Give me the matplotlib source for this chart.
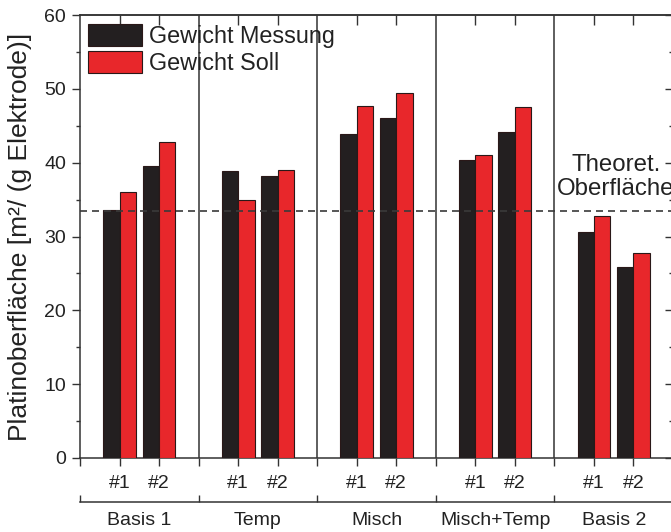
import matplotlib
matplotlib.use("Agg")
import matplotlib.pyplot as plt
import numpy as np

# Data
categories = ["Basis 1", "Temp", "Misch", "Misch+Temp", "Basis 2"]
samples = ["#1", "#2"]
gewicht_messung = [33.6, 39.6, 38.9, 38.2, 43.9, 46.0, 40.3, 44.2, 30.6, 25.9]
gewicht_soll = [36.0, 42.8, 34.9, 39.0, 47.7, 49.4, 41.0, 47.6, 32.8, 27.7]
theoret_oberflaeche = 33.4

plt.rcParams["font.family"] = ["Liberation Sans", "DejaVu Sans"]

W, H = 671, 532
fig = plt.figure(figsize=(W / 100, H / 100), dpi=100)
ax = fig.add_axes([80 / W, (H - 458) / H, 593 / W, 443 / H])

n_groups = len(categories)
positions = []
for g in range(n_groups):
    for s in range(len(samples)):
        positions.append(g + (s + 1) / 3)
positions = np.array(positions)
bw = 0.138

c_black = "#231f20"
c_red = "#e8272b"
edge = "#2a1818"
spine_c = "#333333"
text_c = "#222222"

ax.bar(positions - bw / 2, gewicht_messung, width=bw, color=c_black,
       edgecolor=edge, linewidth=0.8, label="Gewicht Messung", zorder=3)
ax.bar(positions + bw / 2, gewicht_soll, width=bw, color=c_red,
       edgecolor=edge, linewidth=0.8, label="Gewicht Soll", zorder=3)

# group separators
for g in range(1, n_groups + 1):
    ax.axvline(g, color="#333333", lw=1.1, zorder=2)

ax.axhline(theoret_oberflaeche, color="#3a3a3a", lw=1.2,
           linestyle=(0, (4.2, 3)), zorder=4)

ax.text(4.52, 38.1, "Theoret.\nOberfläche", ha="center", va="center",
        multialignment="center", fontsize=17.3, color=text_c,
        linespacing=1.12, zorder=5)

ax.set_xlim(0, 593 / 119.3)
ax.set_ylim(0, 60)

for sp in ax.spines.values():
    sp.set_color(spine_c)
    sp.set_linewidth(1.1)

# left axis
ax.set_yticks(np.arange(0, 61, 10))
ax.set_yticks(np.arange(5, 60, 10), minor=True)
ax.tick_params(axis="y", which="major", direction="out", length=6,
               width=1.0, color=spine_c, labelsize=14, pad=4,
               labelcolor=text_c)
ax.tick_params(axis="y", which="minor", direction="out", length=3,
               width=1.0, color=spine_c)

# bottom axis: sample ticks + group boundary ticks
ax.set_xticks(positions)
ax.set_xticklabels(samples * n_groups)
ax.set_xticks(np.arange(0, n_groups + 1), minor=True)
ax.tick_params(axis="x", which="major", direction="out", length=6,
               width=1.0, color=spine_c, labelsize=14, pad=6,
               labelcolor=text_c)
ax.tick_params(axis="x", which="minor", direction="out", length=6,
               width=1.0, color=spine_c)

ax.set_ylabel("Platinoberfläche [m²/ (g Elektrode)]", fontsize=19,
              color=text_c, labelpad=9)

# top ticks (inward)
top = ax.secondary_xaxis("top")
top.set_xticks(positions)
top.set_xticklabels([])
top.tick_params(direction="in", length=7, width=1.0, color=spine_c)
top.spines["top"].set_color(spine_c)
top.spines["top"].set_linewidth(1.1)

# right ticks (inward)
right = ax.secondary_yaxis("right")
right.set_yticks(np.arange(0, 61, 10))
right.set_yticks(np.arange(5, 60, 10), minor=True)
right.set_yticklabels([])
right.tick_params(which="major", direction="in", length=6, width=1.0, color=spine_c)
right.tick_params(which="minor", direction="in", length=3, width=1.0, color=spine_c)

# category bracket axis
grp = ax.secondary_xaxis(-(502 - 458) / 443)
grp.set_xticks(np.arange(0, n_groups + 1))
grp.set_xticklabels([])
grp.set_xticks(np.arange(n_groups) + 0.5, minor=True)
grp.set_xticklabels(categories, minor=True)
grp.tick_params(which="major", direction="in", length=5, width=1.0, color=spine_c)
grp.tick_params(which="minor", length=0, labelsize=14, pad=7, labelcolor=text_c)
grp.spines["bottom"].set_color(spine_c)
grp.spines["bottom"].set_linewidth(1.1)

leg = ax.legend(loc="upper left", bbox_to_anchor=(8 / 593, 1 - 9 / 443),
                frameon=False, fontsize=16.8, handlelength=2.3,
                handleheight=1.1, handletextpad=0.3, labelspacing=0.12,
                borderpad=0, borderaxespad=0)
for t in leg.get_texts():
    t.set_color(text_c)

fig.savefig("out.png", dpi=100)
